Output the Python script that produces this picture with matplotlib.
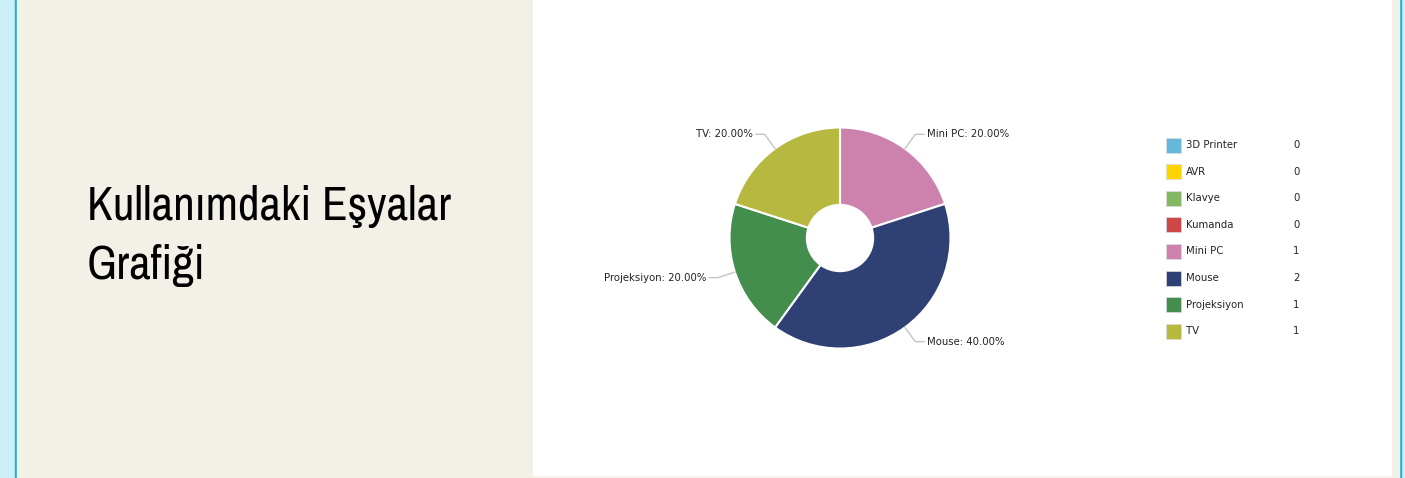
import numpy as np
import matplotlib
matplotlib.use('Agg')
import matplotlib.pyplot as plt
from matplotlib.patches import Rectangle

# data
items = ['3D Printer', 'AVR', 'Klavye', 'Kumanda', 'Mini PC', 'Mouse', 'Projeksiyon', 'TV']
counts = [0, 0, 0, 0, 1, 2, 1, 1]
item_colors = ['#67b7dc', '#fdd400', '#84b761', '#cc4748', '#cd82ad', '#2f4074', '#448e4d', '#b7b83f']
title = 'Kullanımdaki Eşyalar\nGrafiği'

W, H = 1405, 478
fig = plt.figure(figsize=(W / 100, H / 100), dpi=100)
bg = fig.add_axes([0, 0, 1, 1])
bg.set_xlim(0, W)
bg.set_ylim(H, 0)
bg.axis('off')

# page frame
bg.add_patch(Rectangle((0, 0), W, H, color='#cdeff9', zorder=0))
bg.add_patch(Rectangle((15, 0), 2, H, color='#1eb0d8', zorder=1))
bg.add_patch(Rectangle((1399, 0), 2, H, color='#1eb0d8', zorder=1))
bg.add_patch(Rectangle((17, 0), 1382, H, color='#f3f0e8', zorder=1))
bg.add_patch(Rectangle((533, 0), 858, 475, color='#ffffff', zorder=2))

bg.text(87, 236, title, fontsize=34, family=['Archivo Narrow', 'DejaVu Sans'],
        color='#000000', va='center', ha='left', linespacing=1.43, zorder=3)

# donut
cx, cy, r = 840, 238, 110.5
ax = fig.add_axes([(cx - r) / W, (H - cy - r) / H, 2 * r / W, 2 * r / H])
ax.axis('off')

names = [n for n, c in zip(items, counts) if c > 0]
vals = [c for c in counts if c > 0]
cols = [col for col, c in zip(item_colors, counts) if c > 0]
wedges, _ = ax.pie(vals, colors=cols, startangle=90, counterclock=False, radius=1,
                   wedgeprops=dict(width=0.7, edgecolor='white', linewidth=1.5))
ax.set_xlim(-1, 1)
ax.set_ylim(-1, 1)
ax.set_aspect('equal')

total = sum(vals)
for w, n, v in zip(wedges, names, vals):
    mid = np.deg2rad((w.theta1 + w.theta2) / 2)
    x0, y0 = np.cos(mid), np.sin(mid)
    x1, y1 = 1.16 * x0, 1.16 * y0
    side = 1 if x0 >= 0 else -1
    x2 = x1 + side * 0.08
    ax.plot([x0, x1, x2], [y0, y1, y1], color='#c4c4c4', lw=1, clip_on=False)
    ax.text(x2 + side * 0.025, y1, f'{n}: {100 * v / total:.2f}%', fontsize=7.3,
            ha='left' if side > 0 else 'right', va='center', color='#222222', clip_on=False)

# legend
for i, (n, c, col) in enumerate(zip(items, counts, item_colors)):
    y = 145 + i * 26.6
    bg.add_patch(Rectangle((1166, y - 7.5), 15, 15, facecolor=col, edgecolor='#dddddd', lw=0.5, zorder=3))
    bg.text(1186, y, n, fontsize=7.3, va='center', ha='left', color='#222222', zorder=3)
    bg.text(1293, y, str(c), fontsize=7.3, va='center', ha='left', color='#222222', zorder=3)

fig.savefig('out.png', dpi=100)
